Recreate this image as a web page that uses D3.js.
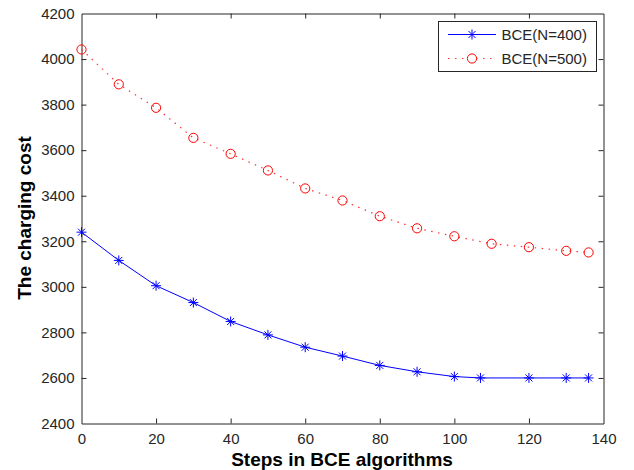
<!DOCTYPE html>
<html>
<head>
<meta charset="utf-8">
<script src="https://cdn.jsdelivr.net/npm/d3@7"></script>
<style>
  html, body { margin: 0; padding: 0; background: #fff; }
  svg { display: block; }
  text { font-family: Arial, "Liberation Sans", Helvetica, sans-serif; }
</style>
</head>
<body>
<svg id="chart" width="634" height="470"></svg>
<script>
// Charging cost over BCE iterations for two population sizes
const steps400 = [0, 10, 20, 30, 40, 50, 60, 70, 80, 90, 100, 107, 120, 130, 136];
const cost400  = [3240, 3116, 3005, 2931, 2848, 2789, 2735, 2696, 2655, 2627, 2606, 2600, 2600, 2600, 2600];

const steps500 = [0, 10, 20, 30, 40, 50, 60, 70, 80, 90, 100, 110, 120, 130, 136];
const cost500  = [4042, 3889, 3786, 3654, 3584, 3511, 3432, 3379, 3310, 3257, 3222, 3189, 3174, 3158, 3151];

const xTicks = [0, 20, 40, 60, 80, 100, 120, 140];
const yTicks = [2400, 2600, 2800, 3000, 3200, 3400, 3600, 3800, 4000, 4200];

const seriesNames = ["BCE(N=400)", "BCE(N=500)"];
const xTitle = "Steps in BCE algorithms";
const yTitle = "The charging cost";

const W = 634, H = 470;
const margin = { left: 81, top: 13, right: 31, bottom: 47 };
const pw = W - margin.left - margin.right;
const ph = H - margin.top - margin.bottom;

const svg = d3.select("#chart");
const g = svg.append("g").attr("transform", `translate(${margin.left + 0.5},${margin.top + 0.5})`);

const x = d3.scaleLinear().domain([0, 140]).range([0, pw]);
const y = d3.scaleLinear().domain([2400, 4200]).range([ph, 0]);

const axisColor = "#262626";
const tickFont = "15px";
const plain = d3.format("d");

// Bottom axis with labels, ticks pointing inward
const xAxis = g.append("g").attr("transform", `translate(0,${ph})`)
  .call(d3.axisBottom(x).tickValues(xTicks).tickFormat(plain).tickSizeInner(-5).tickSizeOuter(0).tickPadding(10));
// Left axis with labels
const yAxis = g.append("g")
  .call(d3.axisLeft(y).tickValues(yTicks).tickFormat(plain).tickSizeInner(-5).tickSizeOuter(0).tickPadding(7));
// Top and right: ticks only
const xTop = g.append("g")
  .call(d3.axisTop(x).tickValues(xTicks).tickSizeInner(-5).tickSizeOuter(0).tickFormat(""));
const yRight = g.append("g").attr("transform", `translate(${pw},0)`)
  .call(d3.axisRight(y).tickValues(yTicks).tickSizeInner(-5).tickSizeOuter(0).tickFormat(""));

[xAxis, yAxis, xTop, yRight].forEach(a => {
  a.select(".domain").attr("stroke", axisColor);
  a.selectAll(".tick line").attr("stroke", axisColor);
  a.selectAll(".tick text")
    .attr("fill", axisColor)
    .style("font-size", tickFont)
    .style("font-family", "Arial, 'Liberation Sans', sans-serif");
});
// Trim the first/last tick marks that coincide with the frame
xAxis.selectAll(".tick line").filter(d => d === 0 || d === 140).remove();
xTop.selectAll(".tick line").filter(d => d === 0 || d === 140).remove();
yAxis.selectAll(".tick line").filter(d => d === 2400 || d === 4200).remove();
yRight.selectAll(".tick line").filter(d => d === 2400 || d === 4200).remove();

// Series lines
const line = d3.line().x(d => x(d[0])).y(d => y(d[1]));
const data400 = steps400.map((s, i) => [s, cost400[i]]);
const data500 = steps500.map((s, i) => [s, cost500[i]]);

g.append("path").datum(data500)
  .attr("d", line).attr("fill", "none")
  .attr("stroke", "#ff3333").attr("stroke-width", 1.2)
  .attr("stroke-dasharray", "1.5,5.5");

g.append("path").datum(data400)
  .attr("d", line).attr("fill", "none")
  .attr("stroke", "#0000ff").attr("stroke-width", 1);

// Markers
const starPath = "M-5,0H5M0,-5V5M-3.5,-3.5L3.5,3.5M-3.5,3.5L3.5,-3.5";

g.selectAll(".m500").data(data500).enter().append("circle")
  .attr("cx", d => x(d[0])).attr("cy", d => y(d[1])).attr("r", 4.6)
  .attr("fill", "none").attr("stroke", "#ff0000").attr("stroke-width", 1);

g.selectAll(".m400").data(data400).enter().append("path")
  .attr("transform", d => `translate(${x(d[0])},${y(d[1])})`)
  .attr("d", starPath).attr("fill", "none")
  .attr("stroke", "#0000ff").attr("stroke-width", 1);

// Axis titles
svg.append("text")
  .attr("x", margin.left + pw / 2).attr("y", 466)
  .attr("text-anchor", "middle")
  .style("font-size", "19px").style("font-weight", "bold").attr("fill", "#000")
  .text(xTitle);

svg.append("text")
  .attr("transform", `translate(30.5,${margin.top + ph / 2}) rotate(-90)`)
  .attr("text-anchor", "middle")
  .style("font-size", "19px").style("font-weight", "bold").attr("fill", "#000")
  .text(yTitle);

// Legend
const lg = svg.append("g").attr("transform", "translate(438.5,21.5)");
lg.append("rect").attr("width", 158).attr("height", 50)
  .attr("fill", "#fff").attr("stroke", axisColor).attr("stroke-width", 1);

const rows = [
  { name: seriesNames[0], y: 13, color: "#0000ff", dash: null, marker: "star" },
  { name: seriesNames[1], y: 37, color: "#ff3333", dash: "1.5,5.5", marker: "circle" }
];
rows.forEach(r => {
  lg.append("line").attr("x1", 9.5).attr("x2", 57.5).attr("y1", r.y).attr("y2", r.y)
    .attr("stroke", r.color).attr("stroke-width", r.dash ? 1.2 : 1)
    .attr("stroke-dasharray", r.dash);
  if (r.marker === "star") {
    lg.append("path").attr("transform", `translate(33.5,${r.y})`)
      .attr("d", starPath).attr("fill", "none").attr("stroke", r.color);
  } else {
    lg.append("circle").attr("cx", 33.5).attr("cy", r.y).attr("r", 4.6)
      .attr("fill", "#fff").attr("stroke", "#ff0000");
  }
  lg.append("text").attr("x", 63).attr("y", r.y).attr("dy", "0.36em")
    .style("font-size", "15px").attr("fill", axisColor).text(r.name);
});
</script>
</body>
</html>
